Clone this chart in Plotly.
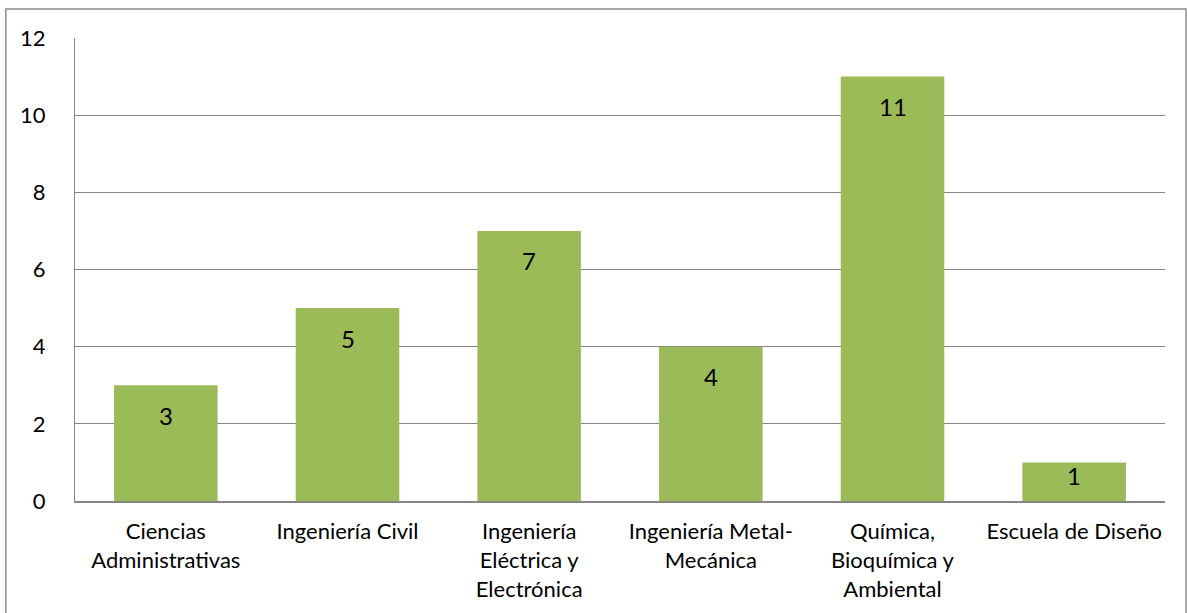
import plotly.graph_objects as go

categories = [
    "Ciencias<br>Administrativas",
    "Ingeniería Civil",
    "Ingeniería<br>Eléctrica y<br>Electrónica",
    "Ingeniería Metal-<br>Mecánica",
    "Química,<br>Bioquímica y<br>Ambiental",
    "Escuela de Diseño",
]
values = [3, 5, 7, 4, 11, 1]
y_ticks = [0, 2, 4, 6, 8, 10, 12]

FONT = "Lato, Carlito, Calibri, sans-serif"
BAR_COLOR = "#9BBB59"
GRID = "#868686"

PLOT_H = 613 - 38 - 112
PX_PER_UNIT = PLOT_H / 12

fig = go.Figure()
fig.add_trace(go.Bar(
    x=categories,
    y=values,
    marker=dict(color=BAR_COLOR, line=dict(width=0)),
    width=0.57,
    hoverinfo="skip",
))

# value labels sit just below each bar's top, kept inside short bars
for c, v in zip(categories, values):
    shift = -min(30, v * PX_PER_UNIT - 26)
    fig.add_annotation(
        x=c, y=v, text=str(v), showarrow=False,
        yshift=shift, font=dict(family=FONT, size=24, color="#000000"),
    )

# outer chart frame
fig.add_shape(
    type="rect", xref="paper", yref="paper",
    x0=-0.0634, x1=1.0193, y0=-0.4, y1=1.0626,
    line=dict(color="#8c8c8c", width=1.5), fillcolor="rgba(0,0,0,0)",
    layer="below",
)

fig.update_layout(
    width=1187, height=613,
    margin=dict(l=75, r=22, t=38, b=112),
    paper_bgcolor="white", plot_bgcolor="white",
    showlegend=False,
    font=dict(family=FONT, color="#000000"),
    xaxis=dict(
        showgrid=False, showline=True, linecolor=GRID, linewidth=2,
        ticks="", tickfont=dict(family=FONT, size=22), ticklabelstandoff=10,
        tickangle=0,
    ),
    yaxis=dict(
        range=[0, 12], tickvals=y_ticks, showgrid=True, gridcolor=GRID, gridwidth=1,
        showline=True, linecolor=GRID, linewidth=1, zeroline=False,
        ticks="", tickfont=dict(family=FONT, size=22), ticklabelstandoff=24,
    ),
)

fig.write_html("out.html")
